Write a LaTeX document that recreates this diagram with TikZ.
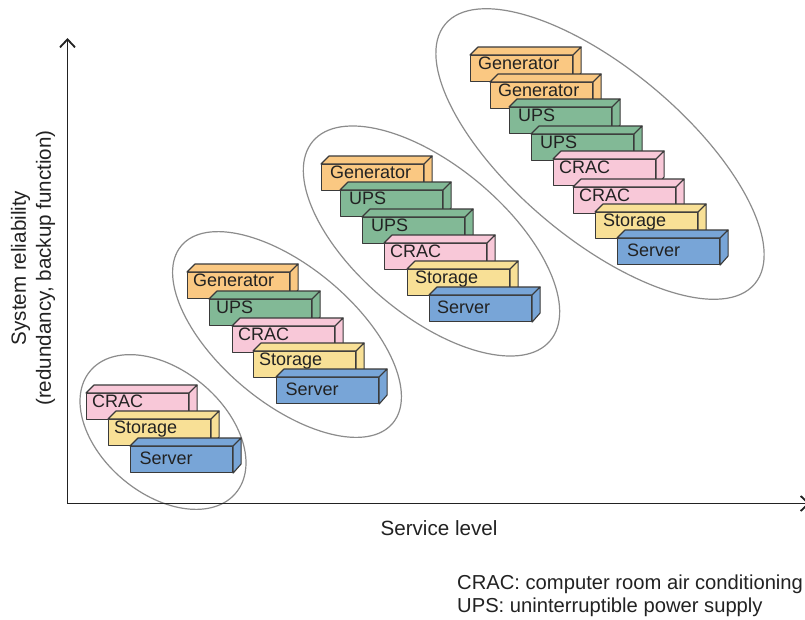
\documentclass[tikz,border=0pt]{standalone}
\usepackage{fontspec}
\setmainfont{Liberation Sans}
\usetikzlibrary{arrows.meta,calc}
\definecolor{cgen}{HTML}{FAC882}
\definecolor{cups}{HTML}{82B996}
\definecolor{ccrac}{HTML}{F8C8D8}
\definecolor{cstor}{HTML}{F8E096}
\definecolor{cserv}{HTML}{78A5D7}
\definecolor{edgec}{HTML}{3A3A3A}
\definecolor{ringc}{HTML}{8C8C8C}
\definecolor{inkc}{HTML}{222222}
\tikzset{
  frontface/.style={draw=edgec, line width=1.1pt, line join=round, anchor=north west,
    inner sep=0pt, minimum width=102pt, minimum height=26pt},
  boxlabel/.style={anchor=base west, inner sep=0pt, text=inkc,
    font=\fontsize{18}{20}\selectfont},
  sideface/.style={draw=edgec, line width=1.1pt, line join=round},
  ring/.style={draw=ringc, line width=1.2pt},
  axisline/.style={draw=inkc, line width=1.8pt},
  lab/.style={inner sep=0pt, text=inkc, font=\fontsize{20.6}{25}\selectfont},
}
% name, x, y, colour, label, text offset (dx,dy)
\newcommand\drawblock[6]{%
  \node[frontface, fill=#4] (#1) at (#2,#3) {};
  \node[boxlabel] (#1t) at ($(#1.north west)+(#6)$) {#5};
  \path[sideface, fill=#4] (#1.north west) -- ++(8,-8) -- ($(#1.north east)+(8,-8)$) -- (#1.north east) -- cycle;
  \path[sideface, fill=#4] (#1.north east) -- ++(8,-8) -- ++(0,26) -- (#1.south east) -- cycle;
}
\begin{document}
\begin{tikzpicture}[x=1pt,y=-1pt]
\useasboundingbox (0,0) rectangle (805,619);
\fill[white] (0,0) rectangle (805,619);

% groups (ellipses)
\draw[ring, rotate around={-40:(163,432)}] (163,432) ellipse [x radius=95, y radius=62];
\draw[ring, rotate around={-40:(287,334.5)}] (287,334.5) ellipse [x radius=138, y radius=68];
\draw[ring, rotate around={-40:(431.5,241)}] (431.5,241) ellipse [x radius=155, y radius=75];
\draw[ring, rotate around={-40:(600,154)}] (600,154) ellipse [x radius=202, y radius=85];

% axes
\coordinate (O) at (67.5,503.5);
\coordinate (ytop) at (67.5,38);
\coordinate (xend) at (810,503.5);
\draw[axisline, {Straight Barb[length=8pt,width=15pt]}-{Straight Barb[length=8pt,width=15pt]}] (ytop) -- (O) -- (xend);

% group 1
\drawblock{a1}{86}{393}{ccrac}{CRAC}{6,14.5}
\drawblock{a2}{108}{419}{cstor}{Storage}{6,14.5}
\drawblock{a3}{130}{446}{cserv}{Server}{9.5,18.5}

% group 2
\drawblock{b1}{187}{272}{cgen}{Generator}{6,14.5}
\drawblock{b2}{209}{299}{cups}{UPS}{7,14.5}
\drawblock{b3}{232}{326}{ccrac}{CRAC}{6,14.5}
\drawblock{b4}{253}{351}{cstor}{Storage}{6,14.5}
\drawblock{b5}{276}{377}{cserv}{Server}{9.5,18.5}

% group 3
\drawblock{c1}{321}{164}{cgen}{Generator}{9,14.5}
\drawblock{c2}{340}{190}{cups}{UPS}{9,14.5}
\drawblock{c3}{362}{217}{cups}{UPS}{9,14.5}
\drawblock{c4}{384}{243}{ccrac}{CRAC}{6,14.5}
\drawblock{c5}{407}{269}{cstor}{Storage}{8,14.5}
\drawblock{c6}{429}{295}{cserv}{Server}{8,18.5}

% group 4
\drawblock{d1}{470}{55}{cgen}{Generator}{8,14.5}
\drawblock{d2}{490}{82}{cgen}{Generator}{8,14.5}
\drawblock{d3}{509}{107}{cups}{UPS}{9,14.5}
\drawblock{d4}{531}{134}{cups}{UPS}{9,14.5}
\drawblock{d5}{553}{159}{ccrac}{CRAC}{6,14.5}
\drawblock{d6}{573}{187}{ccrac}{CRAC}{6,14.5}
\drawblock{d7}{595}{212}{cstor}{Storage}{8,14.5}
\drawblock{d8}{617}{238}{cserv}{Server}{10,18.5}

% labels
\node[lab, anchor=base] (xl) at (439,535) {Service level};
\node[lab, rotate=90, align=center] (yl) at (33,268) {System reliability\\(redundancy, backup function)};
\node[lab, anchor=base west, font=\fontsize{20.2}{25}\selectfont] (leg1) at (457,589) {CRAC: computer room air conditioning};
\node[lab, anchor=base west, font=\fontsize{20.2}{25}\selectfont] (leg2) at (457,612) {UPS: uninterruptible power supply};
\end{tikzpicture}
\end{document}
